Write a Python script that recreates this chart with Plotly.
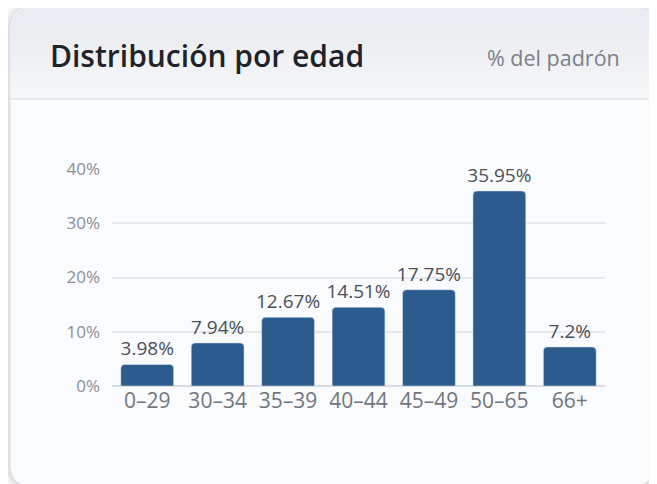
import plotly.graph_objects as go

# data
age_groups = ["0–29", "30–34", "35–39", "40–44", "45–49", "50–65", "66+"]
share_pct = [3.98, 7.94, 12.67, 14.51, 17.75, 35.95, 7.2]
y_ticks = [0, 10, 20, 30, 40]
y_tick_labels = ["0%", "10%", "20%", "30%", "40%"]

W, H = 657, 484
OFF = 8  # page body margin, positions below are screen pixels
ML, MR, MT, MB = 112 - OFF, W - 605 + OFF, 169 - OFF, H - 385.7 + OFF
PW, PH = W - ML - MR, H - MT - MB


def px(x):
    return (x - OFF - ML) / PW


def py(y):
    return 1 - (y - OFF - MT) / PH


def round_rect(x0, y0, x1, y1, r, top=True, bottom=True):
    pts = []
    if top:
        pts.append(f"M{px(x0)},{py(y0 + r)}")
        pts.append(f"Q{px(x0)},{py(y0)} {px(x0 + r)},{py(y0)}")
        pts.append(f"L{px(x1 - r)},{py(y0)}")
        pts.append(f"Q{px(x1)},{py(y0)} {px(x1)},{py(y0 + r)}")
    else:
        pts.append(f"M{px(x0)},{py(y0)}")
        pts.append(f"L{px(x1)},{py(y0)}")
    if bottom:
        pts.append(f"L{px(x1)},{py(y1 - r)}")
        pts.append(f"Q{px(x1)},{py(y1)} {px(x1 - r)},{py(y1)}")
        pts.append(f"L{px(x0 + r)},{py(y1)}")
        pts.append(f"Q{px(x0)},{py(y1)} {px(x0)},{py(y1 - r)}")
    else:
        pts.append(f"L{px(x1)},{py(y1)}")
        pts.append(f"L{px(x0)},{py(y1)}")
    return " ".join(pts) + " Z"


CX0, CY0, CX1, CY1, R = 10, 7, 654, 486, 22
HEAD_BOTTOM = 99

shapes = []
# soft shadow
for i, a in enumerate([0.025, 0.035, 0.05]):
    g = 6 - 2 * i
    shapes.append(dict(type="path", xref="paper", yref="paper", layer="below",
                       path=round_rect(CX0 - g, CY0 - g + 2, CX1 + g, CY1 + g, R + g),
                       fillcolor=f"rgba(30,40,60,{a})", line=dict(width=0)))
# card body
shapes.append(dict(type="path", xref="paper", yref="paper", layer="below",
                   path=round_rect(CX0, CY0, CX1, CY1, R),
                   fillcolor="#fafbfd", line=dict(color="#dde1e6", width=1)))
# header gradient
shapes.append(dict(type="path", xref="paper", yref="paper", layer="below",
                   path=round_rect(CX0 + 1, CY0 + 1, CX1 - 1, CY0 + R, R - 1, bottom=False),
                   fillcolor="#e9ecf0", line=dict(width=0)))
top_c, bot_c = (233, 236, 240), (246, 247, 249)
n = 12
y_start = CY0 + R
step = (HEAD_BOTTOM - y_start) / n
for i in range(n):
    t = (i + 0.5) / n
    c = tuple(round(a + (b - a) * t) for a, b in zip(top_c, bot_c))
    shapes.append(dict(type="rect", xref="paper", yref="paper", layer="below",
                       x0=px(CX0 + 1), x1=px(CX1 - 1),
                       y0=py(y_start + i * step), y1=py(y_start + (i + 1) * step + 0.5),
                       fillcolor=f"rgb{c}", line=dict(width=0)))
# header separator
shapes.append(dict(type="line", xref="paper", yref="paper", layer="below",
                   x0=px(CX0 + 1), x1=px(CX1 - 1), y0=py(HEAD_BOTTOM), y1=py(HEAD_BOTTOM),
                   line=dict(color="#e1e4e9", width=1.5)))

fig = go.Figure(go.Bar(
    x=age_groups,
    y=share_pct,
    marker=dict(color="#2c5c8e", cornerradius=4),
    text=[f"{v}%" for v in share_pct],
    textposition="outside",
    constraintext="none",
    cliponaxis=False,
    textfont=dict(family="Open Sans", size=19, color="#4b5058"),
    hoverinfo="skip",
))

fig.update_layout(
    width=W, height=H,
    margin=dict(l=ML, r=MR, t=MT, b=MB),
    paper_bgcolor="#f6f7f8",
    plot_bgcolor="rgba(0,0,0,0)",
    bargap=0.25,
    showlegend=False,
    shapes=shapes,
    font=dict(family="Open Sans"),
    annotations=[
        dict(text="Distribución por edad", xref="paper", yref="paper",
             x=px(48), y=py(56), xanchor="left", yanchor="middle", showarrow=False,
             font=dict(family="Open Sans", size=30, color="#1f2329", weight=600)),
        dict(text="% del padrón", xref="paper", yref="paper",
             x=px(622), y=py(58), xanchor="right", yanchor="middle", showarrow=False,
             font=dict(family="Open Sans", size=21.5, color="#7b8089")),
    ],
)

fig.update_yaxes(
    range=[0, 40], tickvals=y_ticks, ticktext=y_tick_labels,
    tickfont=dict(size=17, color="#8a8f97"),
    gridcolor="#e6e8ec", gridwidth=1.5,
    zeroline=True, zerolinecolor="#d9dce2", zerolinewidth=1.5,
    showline=False, ticks="", ticklabelstandoff=11,
)
fig.update_xaxes(
    tickfont=dict(size=21, color="#71767e"),
    showline=False, ticks="", showgrid=False,
)

fig.write_html("out.html")
